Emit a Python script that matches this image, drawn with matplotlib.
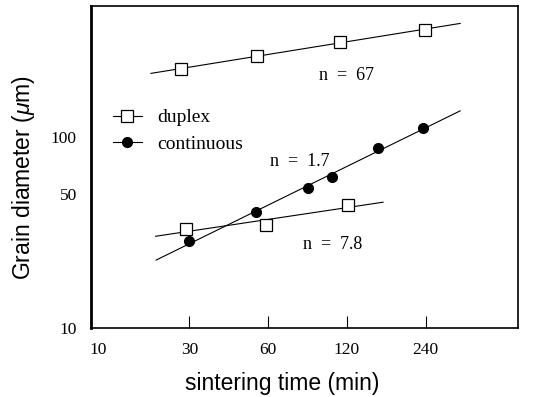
import numpy as np
import matplotlib
matplotlib.use("Agg")
import matplotlib.pyplot as plt

plt.rcParams['font.family'] = ['Liberation Serif', 'DejaVu Serif']
plt.rcParams['mathtext.fontset'] = 'custom'
plt.rcParams['mathtext.it'] = 'Liberation Sans:italic'

# data (time in min, diameter in um)
duplex_hi_t = [28, 54.5, 113, 239]
duplex_hi_d = [226, 262, 312, 361]
duplex_lo_t = [29.2, 58.9, 121.6]
duplex_lo_d = [32.9, 34.7, 44.0]
cont_t = [30.0, 53.7, 85.1, 104.8, 157.5, 235]
cont_d = [28.4, 40.3, 53.9, 61.8, 86.7, 110.7]

fit_hi_range = [21.4, 325]
fit_lo_range = [22.3, 165]
fit_cont_range = [22.4, 325]

x_ticks = [30, 60, 120, 240]
x_labels = ['30', '60', '120', '240']
y_ticks = [10, 50, 100]
y_labels = ['10', '50', '100']

annotations = [("n  =  67", 120, 207), ("n  =  1.7", 79.5, 74), ("n  =  7.8", 106, 27.4)]

fig = plt.figure(figsize=(5.41, 3.97), dpi=100)
ax = fig.add_axes([0.1677, 0.173, 0.7903, 0.812])
ax.set_xscale('log')
ax.set_yscale('log')
ax.set_xlim(12.6, 542)
ax.set_ylim(10, 480)


def fit_line(t, d, rng):
    p = np.polyfit(np.log10(t), np.log10(d), 1)
    xs = np.array(rng)
    return xs, 10 ** np.polyval(p, np.log10(xs))


for t, d, rng in [(duplex_hi_t, duplex_hi_d, fit_hi_range),
                  (duplex_lo_t, duplex_lo_d, fit_lo_range),
                  (cont_t, cont_d, fit_cont_range)]:
    xs, ys = fit_line(t, d, rng)
    ax.plot(xs, ys, color='black', lw=0.8, zorder=2)

ax.plot(duplex_hi_t, duplex_hi_d, 's', ms=8, mfc='white', mec='black', mew=0.9, zorder=3)
ax.plot(duplex_lo_t, duplex_lo_d, 's', ms=8, mfc='white', mec='black', mew=0.9, zorder=3)
ax.plot(cont_t, cont_d, 'o', ms=7, color='black', zorder=3)

# legend handles
h1, = ax.plot([], [], '-s', color='black', lw=0.8, ms=8, mfc='white', mec='black', mew=0.9)
h2, = ax.plot([], [], '-o', color='black', lw=0.8, ms=7)
ax.legend([h1, h2], ['duplex', 'continuous'], loc='upper left',
          bbox_to_anchor=(0.01, 0.735), frameon=False, fontsize=14,
          handlelength=1.5, handletextpad=0.8, labelspacing=0.45)

for txt, x, y in annotations:
    ax.text(x, y, txt, fontsize=13, ha='center', va='center')

ax.set_xticks([13.5] + x_ticks)
ax.set_xticklabels(['10'] + x_labels, fontsize=12.5)
ax.xaxis.set_minor_locator(matplotlib.ticker.NullLocator())
ax.yaxis.set_minor_locator(matplotlib.ticker.NullLocator())
ax.tick_params(axis='x', direction='in', length=9, width=0.8, pad=10)
ax.xaxis.get_major_ticks()[0].tick1line.set_visible(False)
ax.set_yticks(y_ticks)
ax.set_yticklabels(y_labels, fontsize=12.5)
ax.tick_params(axis='y', length=0, pad=10)

ax.set_xlabel('sintering time (min)', family=['Liberation Sans'], fontsize=16.5)
ax.xaxis.set_label_coords(0.447, -0.135)
ax.set_ylabel(r'Grain diameter ($\mu$m)', family=['Liberation Sans'], fontsize=16.5,
              va='center')
ax.yaxis.set_label_coords(-0.158, 0.469)

for s in ax.spines.values():
    s.set_linewidth(1.2)
ax.spines['left'].set_linewidth(2)

fig.savefig('out.png', dpi=100)
